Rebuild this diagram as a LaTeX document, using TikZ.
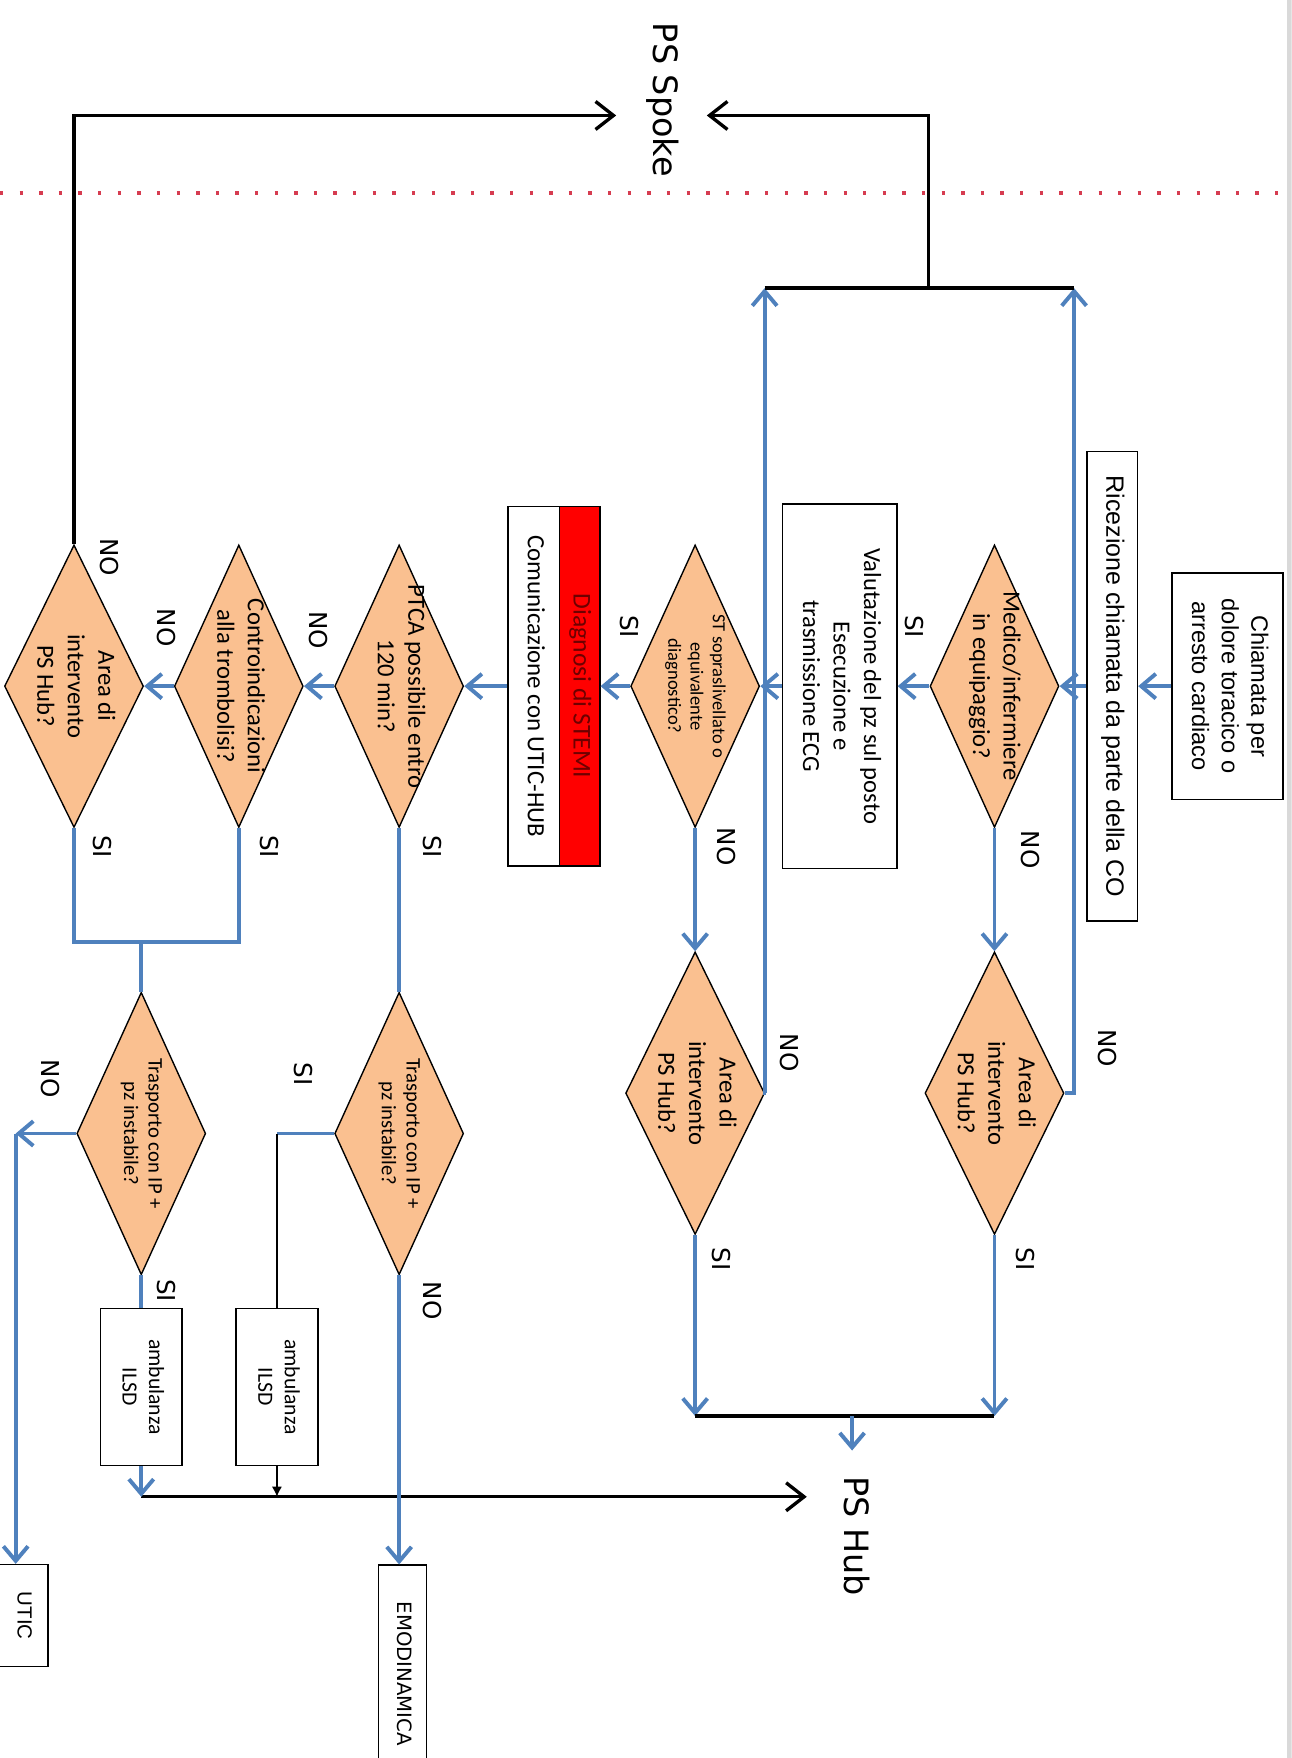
\documentclass[tikz,border=0pt]{standalone}
\usepackage{fontspec}
\setmainfont{Carlito}
\newfontfamily\dejavu{DejaVu Sans}
\newfontfamily\arialfont{Liberation Sans}
\usepackage{graphicx}
\usepackage{xcolor}
\usepackage{tikz}
\usetikzlibrary{shapes.geometric,arrows.meta,positioning,calc}

\definecolor{flowblue}{HTML}{4F81BD}
\definecolor{decorange}{HTML}{FAC090}
\definecolor{dotred}{RGB}{214,60,80}
\definecolor{stemired}{HTML}{FF0000}
\definecolor{stemitext}{RGB}{110,0,0}

\newcommand{\vtxt}[1]{\rotatebox{-90}{\begin{tabular}{@{}c@{}}#1\end{tabular}}}
\newcommand{\fsz}[2]{\fontsize{#1}{#2}\selectfont}

\begin{document}
\begin{tikzpicture}[
  x=0.02cm, y=-0.02cm,
  dec/.style={draw, line width=0.7pt, diamond, fill=decorange, inner sep=0pt, minimum width=2.3cm, minimum height=5.04cm},
  areadec/.style={dec, minimum width=2.48cm},
  dtext/.style={font=\fsz{12.5}{15.5}, inner sep=0pt},
  rbox/.style={draw, line width=0.75pt, rectangle, fill=white, inner sep=0pt, align=center},
  lbl/.style={font=\dejavu\fsz{12.5}{15}, inner sep=0pt},
  hubtxt/.style={font=\dejavu\fsz{17}{20}, inner sep=0.45cm},
  blu/.style={flowblue, line width=2pt},
  bluarr/.style={blu, -{Straight Barb[length=2.6mm, width=4.4mm]}},
  blk/.style={black, line width=1.7pt},
  blkarr/.style={blk, -{Straight Barb[length=3.2mm, width=5mm]}}
]
\useasboundingbox (0,0) rectangle (1152,1568);
\clip (0,0) rectangle (1152,1568);
\fill[gray!30] (1148,0) rectangle (1152,1568);

% linea di separazione spoke / hub
\draw[dotred, line width=0.08cm, dash pattern=on 0.06cm off 0.29cm] (0,172) -- (1148,172);

\node[hubtxt] (spoke) at (590,89) {\vtxt{PS Spoke}};
\node[hubtxt] (hub) at (760,1370) {\vtxt{PS Hub}};

% fila principale
\node[rbox, font=\arialfont\fsz{12}{15}, minimum width=1.98cm, minimum height=4.04cm] (chiamata) at (1095,612) {\vtxt{Chiamata per\\dolore toracico o\\arresto cardiaco}};
\node[rbox, font=\arialfont\fsz{12.7}{15}, minimum width=0.9cm, minimum height=8.38cm] (ricez) at (992,612) {\vtxt{Ricezione chiamata da parte della CO}};
\node[dec, label={[dtext]center:\vtxt{Medico/infermiere\\in equipaggio?}}] (medico) at (887,612) {};
\node[rbox, font=\fsz{12.5}{15.5}, minimum width=2.04cm, minimum height=6.5cm] (valut) at (749,612) {\vtxt{Valutazione del pz sul posto\\Esecuzione e\\trasmissione ECG}};
\node[dec, label={[dtext, font=\fsz{9.4}{11.3}]center:\vtxt{ST sopraslivellato o\\equivalente\\diagnostico?}}] (st) at (620,612) {};
\node[rbox, fill=stemired, text=stemitext, font=\fsz{13}{15}, minimum width=0.72cm, minimum height=6.42cm] (diagnosi) at (517,612) {\vtxt{Diagnosi di STEMI}};
\node[rbox, font=\fsz{12.6}{15}, minimum width=0.92cm, minimum height=6.42cm, left=-0.75pt of diagnosi] (comunic) {\vtxt{Comunicazione con UTIC-HUB}};
\node[dec, label={[dtext]center:\vtxt{PTCA possibile entro\\120 min?}}] (ptca) at (356,612) {};
\node[dec, label={[dtext]center:\vtxt{Controindicazioni\\alla trombolisi?}}] (contro) at (213,612) {};
\node[areadec, label={[dtext]center:\vtxt{Area di\\intervento\\PS Hub?}}] (areaspoke) at (66,612) {};

% verifiche area hub
\node[areadec, label={[dtext]center:\vtxt{Area di\\intervento\\PS Hub?}}] (areamed) at (887,975) {};
\node[areadec, label={[dtext]center:\vtxt{Area di\\intervento\\PS Hub?}}] (areast) at (620,975) {};

% trasporto
\node[dec, label={[dtext, font=\fsz{10.5}{12.5}]center:\vtxt{Trasporto con IP +\\pz instabile?}}] (traspA) at (126,1011) {};
\node[dec, label={[dtext, font=\fsz{10.5}{12.5}]center:\vtxt{Trasporto con IP +\\pz instabile?}}] (traspB) at (356,1011) {};
\node[rbox, font=\fsz{11}{13.5}, minimum width=1.46cm, minimum height=2.8cm] (ambA) at (126,1237) {\vtxt{ambulanza\\ILSD}};
\node[rbox, font=\fsz{11}{13.5}, minimum width=1.46cm, minimum height=2.8cm] (ambB) at (247,1237) {\vtxt{ambulanza\\ILSD}};
\node[rbox, font=\arialfont\fsz{10.4}{12}, minimum width=0.92cm, minimum height=1.82cm] (utic) at (20,1441) {\vtxt{UTIC}};
\node[rbox, font=\dejavu\fsz{10}{12}, minimum width=0.86cm, minimum height=3.88cm] (emodin) at (359,1493) {\vtxt{EMODINAMICA}};

% etichette SI / NO
\node[lbl] (siMedico) at (813,559) {\vtxt{SI}};
\node[lbl] (noMedico) at (916,758) {\vtxt{NO}};
\node[lbl] (siSt) at (559,559) {\vtxt{SI}};
\node[lbl] (noSt) at (645,755) {\vtxt{NO}};
\node[lbl] (noPtca) at (281,562) {\vtxt{NO}};
\node[lbl] (siPtca) at (383,755) {\vtxt{SI}};
\node[lbl] (noContro) at (146,560) {\vtxt{NO}};
\node[lbl] (siContro) at (238,755) {\vtxt{SI}};
\node[lbl] (noAreaSpoke) at (95,497) {\vtxt{NO}};
\node[lbl] (siAreaSpoke) at (89,755) {\vtxt{SI}};
\node[lbl] (noAreaMed) at (985,935) {\vtxt{NO}};
\node[lbl] (siAreaMed) at (912,1123) {\vtxt{SI}};
\node[lbl] (noAreaSt) at (701,939) {\vtxt{NO}};
\node[lbl] (siAreaSt) at (641,1123) {\vtxt{SI}};
\node[lbl] (siTraspB) at (268,958) {\vtxt{SI}};
\node[lbl] (noTraspB) at (383,1160) {\vtxt{NO}};
\node[lbl] (noTraspA) at (42,962) {\vtxt{NO}};
\node[lbl] (siTraspA) at (146,1151) {\vtxt{SI}};

% punti di snodo
\coordinate (barL) at (682,257);
\coordinate (barR) at (958,257);
\coordinate (barM) at (828,257);
\coordinate (hubbarL) at (620,1263);
\coordinate (hubbarR) at (887,1263);
\coordinate (joinA) at (126,840);
\coordinate (uticturn) at (14,1011);
\coordinate (hubstart) at (126,1335);

% collegamenti
\draw[bluarr] (chiamata) -- (ricez);
\draw[bluarr] (ricez) -- (medico);
\draw[bluarr] (medico) -- (valut);
\draw[bluarr] (valut) -- (st);
\draw[bluarr] (st) -- (diagnosi);
\draw[bluarr] (comunic) -- (ptca);
\draw[bluarr] (ptca) -- (contro);
\draw[bluarr] (contro) -- (areaspoke);
\draw[bluarr] (medico) -- (areamed);
\draw[bluarr] (st) -- (areast);

\draw[bluarr] (areamed.east) -| (barR);
\draw[bluarr] (areast.east) -| (barL);
\draw[blk, line width=2pt] (barL) -- (barR);
\draw[blkarr] (barM) |- ([yshift=-0.28cm]spoke.east);
\draw[blkarr] (areaspoke.north) |- ([yshift=-0.28cm]spoke.west);

\draw[bluarr] (areast) -- (hubbarL);
\draw[bluarr] (areamed) -- (hubbarR);
\draw[blk, line width=2pt] (hubbarL) -- (hubbarR);
\draw[bluarr] (hub.north |- hubbarL) -- (hub.north);

\draw[blu] (areaspoke.south) |- (joinA) -| (contro.south);
\draw[blu] (joinA) -- (traspA);
\draw[blu] (ptca) -- (traspB);

\draw[bluarr] (traspA.west) -- (uticturn);
\draw[bluarr] (uticturn) -- (uticturn |- utic.north);
\draw[blu] (traspA) -- (ambA);
\draw[blu] (traspB.west) -- (traspB.west -| ambB.north);
\draw[black, line width=0.7pt] (traspB.west -| ambB.north) -- (ambB.north);
\draw[black, line width=0.7pt, -{Latex[length=1.8mm, width=1.8mm]}] (ambB) -- (ambB |- hubstart);
\draw[blkarr] (hubstart) -- (hubstart -| hub.west);
\draw[bluarr] (ambA) -- (hubstart);
\draw[bluarr] (traspB.south) -- (traspB.south |- emodin.north);

\end{tikzpicture}
\end{document}
